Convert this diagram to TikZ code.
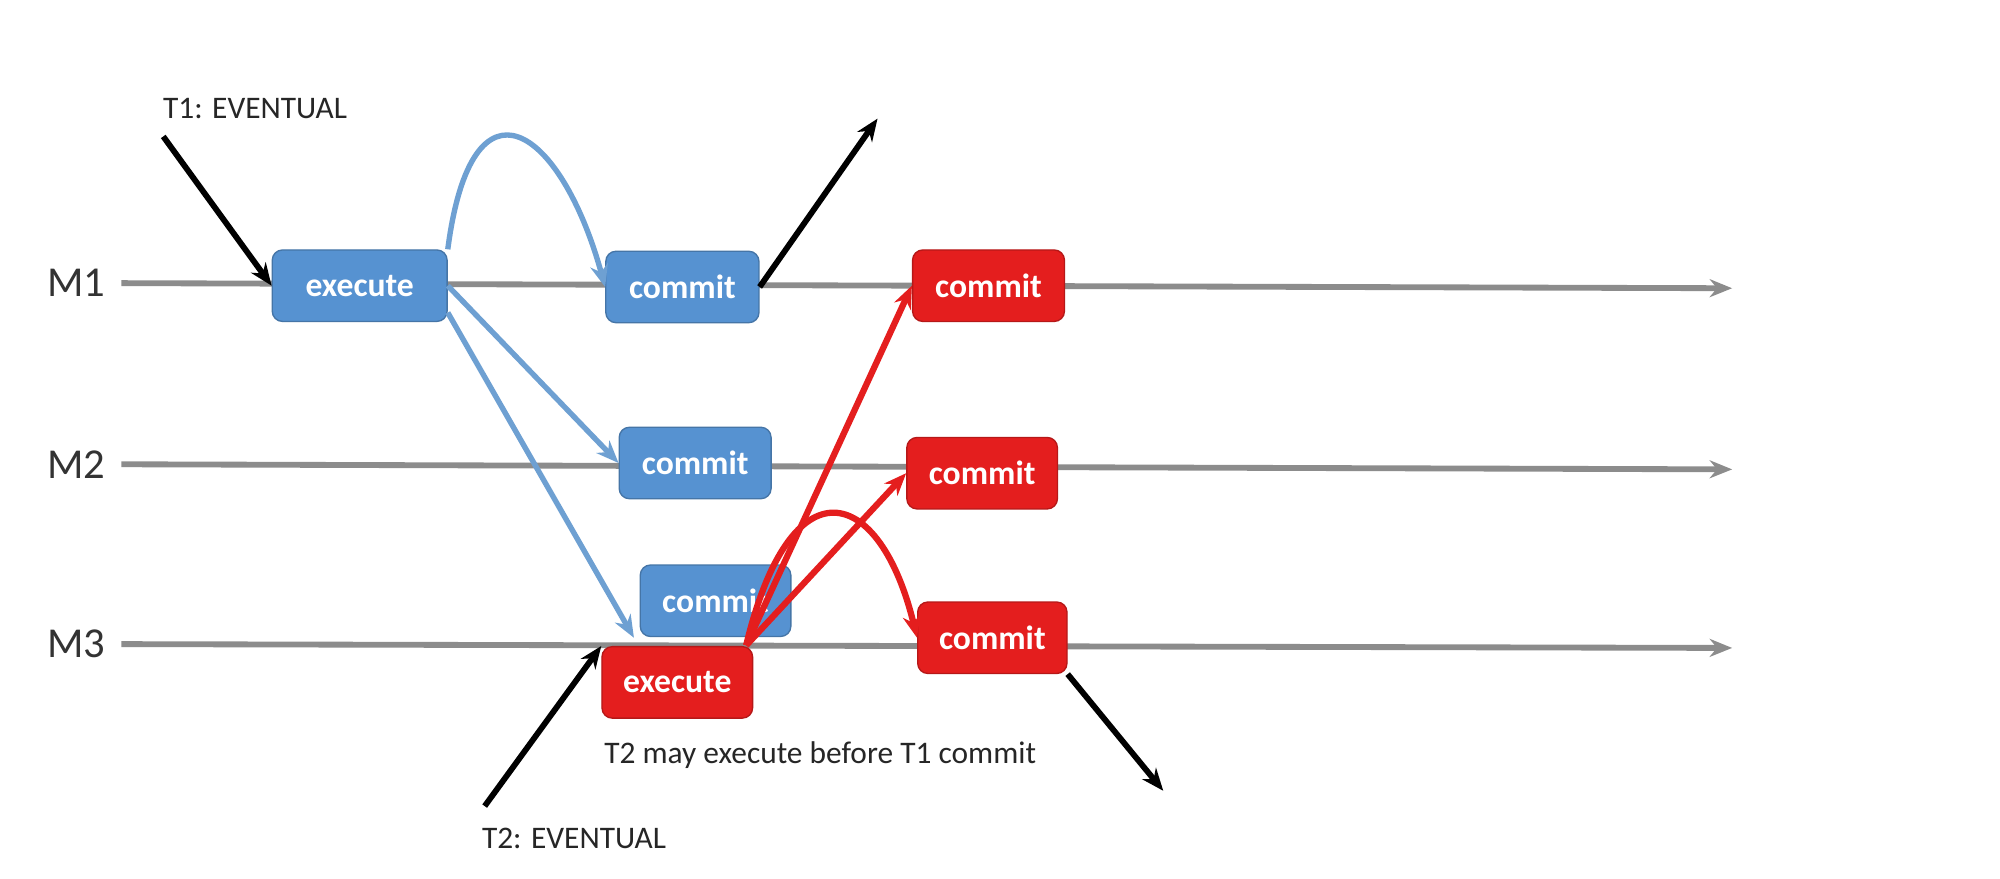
\documentclass[tikz,border=0pt]{standalone}
\usepackage{fontspec}
\setmainfont{Carlito}
\usetikzlibrary{arrows.meta}
\definecolor{bbox}{RGB}{86,146,209}
\definecolor{rbox}{RGB}{228,30,30}
\definecolor{barr}{RGB}{110,160,210}
\definecolor{gline}{RGB}{140,140,140}
\tikzset{
  box/.style={rounded corners=0.08cm, text=white, font=\fontsize{7.5}{9}\selectfont\bfseries, inner sep=0pt, minimum height=0.56cm},
  bluebox/.style={box, fill=bbox, draw=bbox!80!black, line width=0.3pt},
  redbox/.style={box, fill=rbox, draw=rbox!80!black, line width=0.3pt},
  lane/.style={draw=gline, line width=1.3pt, -{Stealth[length=5pt,width=4pt]}},
  barrow/.style={draw=barr, line width=1.2pt, -{Stealth[length=5pt,width=4pt]}},
  rarrow/.style={draw=rbox, line width=1.4pt, -{Stealth[length=5pt,width=4pt]}},
  karrow/.style={draw=black, line width=1.3pt, -{Stealth[length=5pt,width=4pt]}},
  lbl/.style={font=\fontsize{7}{8}\selectfont, text=black!85},
  mlbl/.style={font=\fontsize{9.5}{11}\selectfont, text=black!80}
}
\begin{document}
\begin{tikzpicture}[x=0.01cm,y=-0.01cm]
\useasboundingbox[fill=white] (0,0) rectangle (1568,689);
% lanes
\node[mlbl] (m1) at (60,222) {M1};
\node[mlbl] (m2) at (60,364) {M2};
\node[mlbl] (m3) at (60,505) {M3};
\coordinate (e1) at (1358,226);
\coordinate (e2) at (1358,368);
\coordinate (e3) at (1358,508);
\draw[lane] (m1.east) -- (e1);
\draw[lane] (m2.east) -- (e2);
\draw[lane] (m3.east) -- (e3);
% boxes
\node[bluebox, minimum width=1.37cm] (ex1) at (282,224) {execute};
\node[bluebox, minimum width=1.2cm] (bc1) at (535,225) {commit};
\node[bluebox, minimum width=1.19cm] (bc2) at (545,363) {commit};
\node[bluebox, minimum width=1.18cm] (bc3) at (561,471) {commit};
\node[redbox, minimum width=1.18cm] (ex2) at (531,535) {execute};
\node[redbox, minimum width=1.19cm] (rc1) at (775,224) {commit};
\node[redbox, minimum width=1.18cm] (rc2) at (770,371) {commit};
\node[redbox, minimum width=1.17cm] (rc3) at (778,500) {commit};
% texts
\node[lbl] (t1) at (200,85) {T1: EVENTUAL};
\node[lbl] (t2) at (450,657) {T2: EVENTUAL};
\node[lbl] (note) at (643,592) {T2 may execute before T1 commit};
% black arrows
\coordinate (t1s) at (128,107);
\coordinate (t2s) at (380,632);
\coordinate (up1) at (688,93);
\coordinate (dn3) at (912,620);
\draw[karrow] (t1s) -- (ex1.west);
\draw[karrow] (t2s) -- (ex2.north west);
\draw[karrow] (bc1.east) -- (up1);
\draw[karrow] (rc3.south east) -- (dn3);
% blue arrows
\draw[barrow] (ex1.north east) .. controls (370,50) and (440,100) .. (bc1.west);
\draw[barrow] (ex1.east) -- (bc2.west);
\draw[barrow] ([yshift=-6]ex1.east) -- (497,500);
% red arrows
\coordinate (rs) at (585,506);
\draw[rarrow] (rs) -- (rc1.west);
\draw[rarrow] (rs) -- (rc2.west);
\draw[rarrow] (rs) .. controls (620,360) and (690,380) .. (rc3.west);
\end{tikzpicture}
\end{document}
